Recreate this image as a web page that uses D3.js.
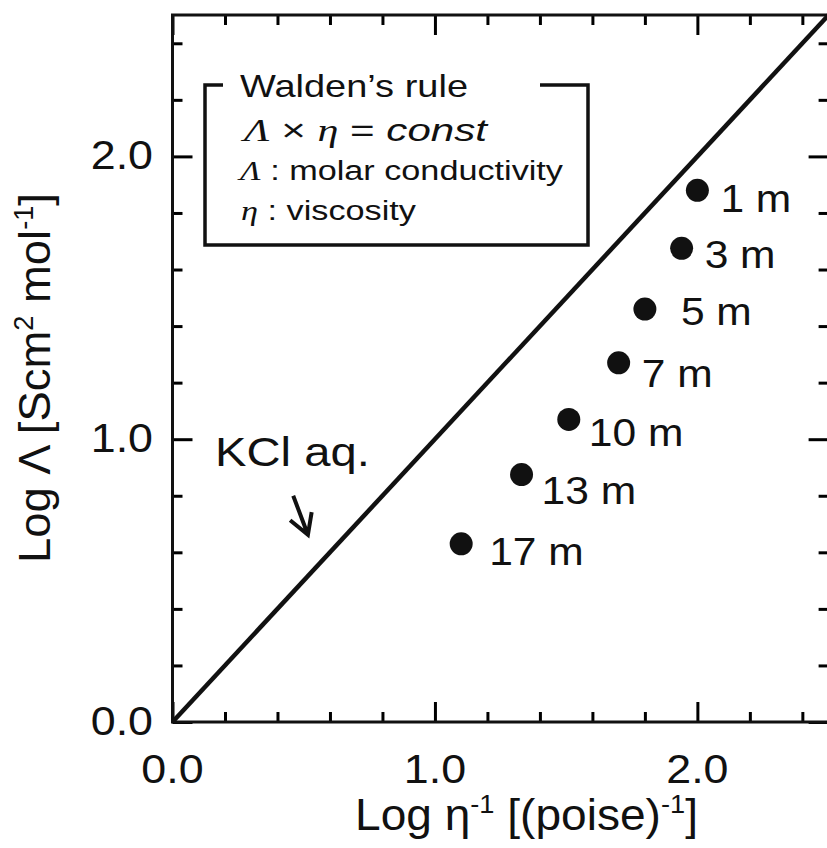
<!DOCTYPE html>
<html>
<head>
<meta charset="utf-8">
<script src="https://cdn.jsdelivr.net/npm/d3@7"></script>
<style>
  body { margin: 0; background: #fff; }
  text { font-family: "Liberation Sans", Arial, sans-serif; fill: #111; }
</style>
</head>
<body>
<div id="chart"></div>
<script>
// Walden plot data
const molality = ["1 m", "3 m", "5 m", "7 m", "10 m", "13 m", "17 m"];
const logInvVisc = [2.00, 1.94, 1.80, 1.70, 1.51, 1.33, 1.10];
const logMolarCond = [1.88, 1.675, 1.46, 1.27, 1.07, 0.875, 0.63];
const kclLine = [[0, 0], [2.5, 2.5]];
const majorTicks = [0, 1, 2];
const tickLabels = ["0.0", "1.0", "2.0"];

// label nudges (px) next to each point
const labelNudge = [[23, 22], [23, 20], [36, 16], [23, 24], [20, 27], [20, 29], [28, 21]];

const width = 827, height = 848;
const x = d3.scaleLinear().domain([0, 2.5]).range([172.5, 828.6]);
const y = d3.scaleLinear().domain([0, 2.5]).range([722, 15]);
const minorTicks = d3.range(0, 2.51, 0.2).filter(v => Math.abs(v - Math.round(v)) > 0.01);

const svg = d3.select("#chart").append("svg")
  .attr("width", width)
  .attr("height", height);

// ticks, all pointing inward
function ticks(axis, transform, size, values) {
  svg.append("g")
    .attr("transform", transform)
    .attr("stroke-width", 3)
    .call(axis.tickValues(values).tickSize(size).tickFormat(""))
    .call(g => g.select(".domain").remove());
}
[[majorTicks, -20], [minorTicks, -10]].forEach(([vals, s]) => {
  ticks(d3.axisBottom(x), `translate(0,${y(0)})`, s, vals);
  ticks(d3.axisTop(x), `translate(0,${y(2.5)})`, s, vals);
  ticks(d3.axisLeft(y), `translate(${x(0)},0)`, s, vals);
  ticks(d3.axisRight(y), `translate(${x(2.5)},0)`, s, vals);
});

// frame
svg.append("rect")
  .attr("x", x(0)).attr("y", y(2.5))
  .attr("width", x(2.5) - x(0)).attr("height", y(0) - y(2.5))
  .attr("fill", "none").attr("stroke", "#111").attr("stroke-width", 3);

// stretched text helper
function label(px, py, str, size, sx, anchor) {
  return svg.append("g")
    .attr("transform", `translate(${px},${py}) scale(${sx},1)`)
    .append("text")
      .attr("font-size", size)
      .attr("text-anchor", anchor || "start")
      .text(str);
}

// tick labels
majorTicks.forEach((v, i) => {
  label(x(v), 783, tickLabels[i], 40, 1.12, "middle");
  label(153, y(v) + 13, tickLabels[i], 40, 1.12, "end");
});

// axis titles
const xt = svg.append("text")
  .attr("x", 526.5).attr("y", 830)
  .attr("font-size", 44)
  .attr("text-anchor", "middle")
  .attr("textLength", 343)
  .attr("lengthAdjust", "spacingAndGlyphs");
xt.append("tspan").text("Log η");
xt.append("tspan").attr("font-size", 26).attr("dy", -17).text("-1");
xt.append("tspan").attr("dy", 17).text(" [(poise)");
xt.append("tspan").attr("font-size", 26).attr("dy", -17).text("-1");
xt.append("tspan").attr("dy", 17).text("]");

const yt = svg.append("g")
  .attr("transform", "translate(50,378) rotate(-90)")
  .append("text")
    .attr("font-size", 45)
    .attr("text-anchor", "middle")
    .attr("textLength", 370)
    .attr("lengthAdjust", "spacingAndGlyphs");
yt.append("tspan").text("Log Λ [Scm");
yt.append("tspan").attr("font-size", 27).attr("dy", -17).text("2");
yt.append("tspan").attr("dy", 17).text(" mol");
yt.append("tspan").attr("font-size", 27).attr("dy", -17).text("-1");
yt.append("tspan").attr("dy", 17).text("]");

// KCl aq. reference line
svg.append("path")
  .datum(kclLine)
  .attr("d", d3.line().x(d => x(d[0])).y(d => y(d[1])))
  .attr("fill", "none").attr("stroke", "#111").attr("stroke-width", 4.5);

// points + labels
svg.append("g")
  .selectAll("circle")
  .data(molality)
  .enter()
  .append("circle")
    .attr("cx", (d, i) => x(logInvVisc[i]))
    .attr("cy", (d, i) => y(logMolarCond[i]))
    .attr("r", 11.5)
    .attr("fill", "#111");
molality.forEach((m, i) => {
  label(x(logInvVisc[i]) + labelNudge[i][0], y(logMolarCond[i]) + labelNudge[i][1], m, 38, 1.12);
});

// KCl aq. annotation with arrow
label(x(0.162), y(0.905), "KCl aq.", 40, 1.18);
const a0 = [x(0.46), y(0.80)], a1 = [x(0.516), y(0.662)];
const ang = Math.atan2(a0[1] - a1[1], a0[0] - a1[0]);
const head = [ang - Math.PI / 6, ang + Math.PI / 6].map(t => [a1[0] + 23 * Math.cos(t), a1[1] + 23 * Math.sin(t)]);
svg.append("path")
  .attr("d", `M${a0}L${a1}M${head[0]}L${a1}L${head[1]}`)
  .attr("fill", "none").attr("stroke", "#111").attr("stroke-width", 4)
  .attr("stroke-linejoin", "miter");

// Walden's rule box (open top edge behind the title)
svg.append("path")
  .attr("d", "M223,85H205V245H588V85H540")
  .attr("fill", "none").attr("stroke", "#111").attr("stroke-width", 3.5);

const serifIt = "'Liberation Serif', 'Times New Roman', serif";
function legendLine(px, py, size, len) {
  return svg.append("text")
    .attr("x", px).attr("y", py)
    .attr("font-size", size)
    .attr("textLength", len)
    .attr("lengthAdjust", "spacingAndGlyphs");
}
legendLine(240, 97, 32, 228).text("Walden’s rule");

const l2 = legendLine(244, 141, 31, 243);
l2.append("tspan").attr("font-family", serifIt).attr("font-style", "italic").text("Λ");
l2.append("tspan").text("  ×  ");
l2.append("tspan").attr("font-family", serifIt).attr("font-style", "italic").text("η");
l2.append("tspan").text(" = ");
l2.append("tspan").attr("font-style", "italic").text("const");

const l3 = legendLine(240, 180, 27, 323);
l3.append("tspan").attr("font-family", serifIt).attr("font-style", "italic").text("Λ");
l3.append("tspan").text(" : molar conductivity");

const l4 = legendLine(241, 220, 27, 175);
l4.append("tspan").attr("font-family", serifIt).attr("font-style", "italic").text("η");
l4.append("tspan").text(" : viscosity");
</script>
</body>
</html>
